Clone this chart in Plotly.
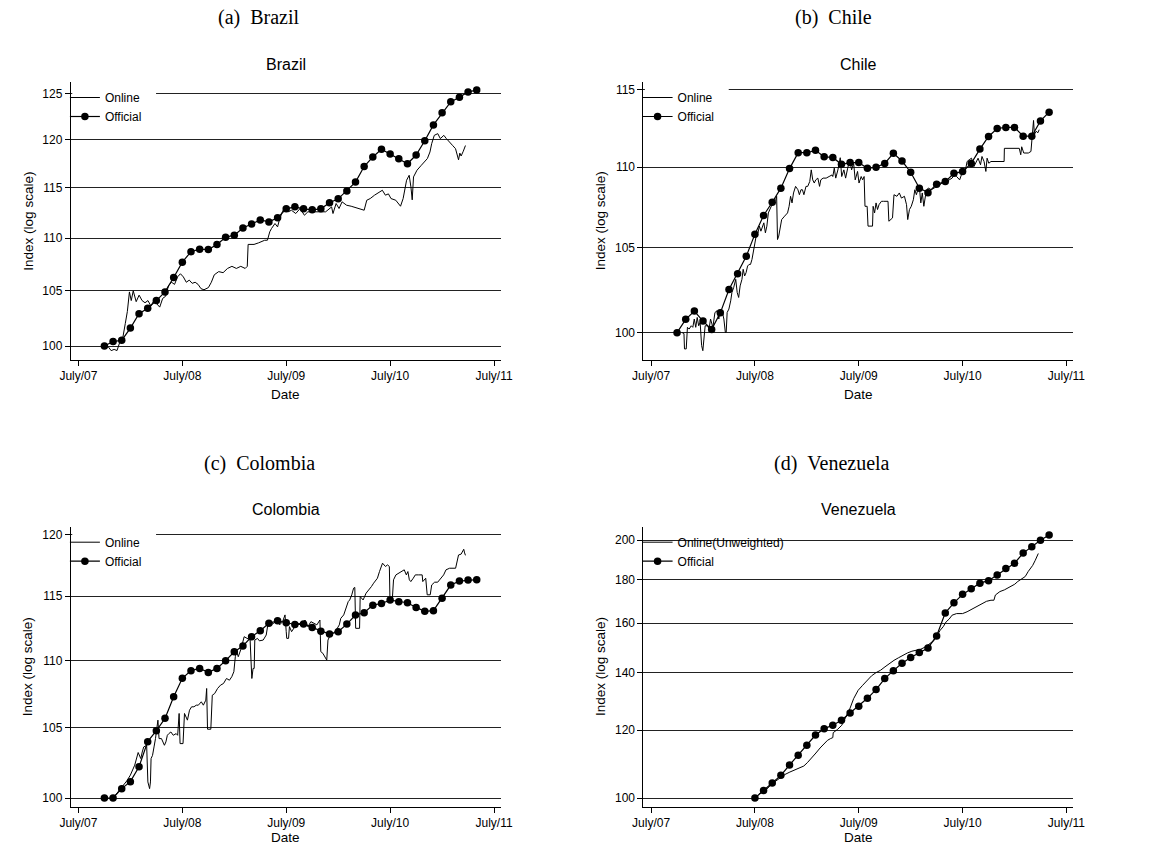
import plotly.graph_objects as go
import math

# ---------------- DATA ----------------
# Month index m: 0 = July 2007, 12 = July 2008, ...
tick_years = [2007.5, 2008.5, 2009.5, 2010.5, 2011.5]
tick_text = ["July/07", "July/08", "July/09", "July/10", "July/11"]

# Official monthly indices
brazil_official_start = 3   # Oct 2007
brazil_official = [100.0, 100.4, 100.5, 101.6, 102.9, 103.4, 104.1, 104.9, 106.25, 107.7,
                   108.7, 108.94, 108.9, 109.4, 110.1, 110.3, 111.0, 111.4, 111.8, 111.6,
                   112.0, 112.9, 113.1, 112.9, 112.8, 112.9, 113.5, 113.9, 114.7, 115.6,
                   117.2, 118.2, 119.0, 118.5, 118.0, 117.5, 118.4, 119.9, 121.6, 122.9,
                   124.1, 124.6, 125.2, 125.4]

chile_official_start = 3
chile_official = [100.0, 100.77, 101.25, 100.67, 100.19, 101.15, 102.52, 103.46, 104.5, 105.84,
                  106.98, 107.8, 108.68, 109.91, 110.92, 110.92, 111.07, 110.66, 110.62, 110.18,
                  110.29, 110.29, 109.93, 110.0, 110.24, 110.88, 110.39, 109.68, 108.68, 108.4,
                  108.92, 109.09, 109.61, 109.72, 110.24, 111.15, 111.96, 112.48, 112.55, 112.55,
                  111.98, 111.98, 112.97, 113.54]

colombia_official_start = 3
colombia_official = [100.0, 100.0, 100.65, 101.14, 102.19, 103.98, 104.77, 105.67, 107.27, 108.64,
                     109.22, 109.39, 109.09, 109.39, 109.98, 110.66, 111.10, 111.82, 112.28, 112.86,
                     113.06, 112.9, 112.77, 112.8, 112.54, 112.25, 112.02, 112.2, 112.8, 113.51,
                     113.69, 114.29, 114.42, 114.69, 114.56, 114.48, 114.11, 113.8, 113.85, 114.83,
                     115.89, 116.21, 116.29, 116.32]

venezuela_official_start = 12  # July 2008
venezuela_official = [100.0, 102.08, 104.12, 106.29, 109.29, 112.16, 115.23, 118.47, 120.51, 121.59,
                      123.24, 125.7, 127.97, 130.75, 133.84, 137.86, 140.85, 143.67, 145.89, 147.86,
                      149.72, 154.62, 164.5, 169.0, 172.9, 175.5, 178.2, 179.4, 182.2, 185.3,
                      188.0, 193.2, 196.5, 200.0, 202.8]

# Online indices: (month index, value)
brazil_online = [
    (3.44, 99.94), (3.78, 99.59), (4.12, 99.7), (4.46, 99.6), (4.80, 100.4), (5.14, 100.8),
    (5.41, 102.0), (5.65, 103.1), (5.89, 104.9), (6.10, 104.1), (6.33, 105.0), (6.67, 104.0),
    (7.01, 104.6), (7.35, 104.1), (7.69, 103.9), (8.03, 104.1), (8.37, 103.6), (8.71, 104.1),
    (9.05, 103.8), (9.39, 103.5), (9.73, 104.3), (10.07, 104.5), (10.41, 105.5), (10.76, 105.8),
    (11.10, 105.6), (11.44, 106.3), (11.78, 106.6), (12.12, 106.3), (12.46, 105.8), (12.80, 106.0),
    (13.14, 105.7), (13.48, 105.8), (13.82, 105.6), (14.16, 105.2), (14.50, 105.1), (15.01, 105.3),
    (15.35, 105.8), (15.69, 106.5), (16.20, 106.8), (16.71, 106.7), (17.22, 107.1), (17.73, 107.3),
    (18.24, 107.1), (18.75, 107.3), (19.26, 107.1), (19.50, 107.3), (19.60, 109.4), (20.28, 109.4),
    (20.8, 109.55), (21.5, 109.8), (21.83, 109.81), (22.1, 110.63), (22.3, 110.95), (22.7, 111.44),
    (23.0, 111.11), (23.2, 111.77), (23.55, 112.6), (23.9, 113.09), (24.24, 112.6), (24.6, 112.76),
    (25.1, 112.43), (25.6, 112.93), (26.1, 112.26), (26.5, 112.6), (27.0, 112.6), (27.7, 112.6),
    (28.55, 112.6), (29.24, 113.09), (29.4, 112.43), (29.76, 113.43), (30.1, 112.93), (30.45, 113.6),
    (30.97, 113.26), (31.5, 113.16), (32.0, 113.03), (32.5, 112.93), (33.0, 112.76), (33.3, 113.76),
    (33.7, 113.93), (34.2, 114.27), (34.76, 114.6), (35.1, 114.77), (35.45, 114.27), (35.8, 114.4),
    (36.1, 113.93), (36.65, 113.76), (37.2, 113.16), (37.5, 113.93), (37.9, 115.79), (38.2, 116.3),
    (38.4, 115.11), (38.55, 113.8), (38.7, 116.13), (39.1, 116.82), (39.6, 117.33), (39.9, 117.68),
    (40.3, 118.03), (40.6, 118.72), (40.8, 119.6), (41.1, 120.48), (41.5, 120.66), (41.8, 120.13),
    (42.2, 120.48), (42.5, 120.13), (42.9, 119.78), (43.2, 119.42), (43.55, 119.07), (43.9, 117.9),
    (44.05, 118.6), (44.2, 118.3), (44.45, 118.8), (44.7, 119.4)]

chile_online = [
    (3.6, 100.0), (3.8, 99.95), (3.86, 99.07), (4.06, 99.07), (4.20, 100.31), (4.40, 100.21),
    (4.64, 100.40), (4.82, 100.31), (4.99, 100.79), (5.16, 100.31), (5.33, 100.88), (5.50, 100.40),
    (5.67, 100.59), (5.84, 99.26), (5.98, 98.97), (6.12, 99.83), (6.25, 100.40), (6.53, 100.40),
    (6.70, 100.21), (6.87, 100.79), (7.14, 100.31), (7.38, 101.17), (7.62, 101.27), (7.83, 100.79),
    (8.00, 101.37), (8.24, 101.17), (8.41, 100.79), (8.58, 100.02), (8.68, 100.02), (8.79, 101.17),
    (8.99, 101.37), (9.20, 101.85), (9.34, 102.34), (9.54, 102.63), (9.78, 103.12), (9.95, 102.34),
    (10.12, 102.05), (10.29, 102.73), (10.50, 103.12), (10.64, 103.72), (10.81, 103.32), (10.98, 103.52),
    (11.15, 103.91), (11.32, 104.01), (11.49, 104.01), (11.66, 104.31), (11.84, 104.91), (12.01, 105.51),
    (12.14, 105.72), (12.35, 105.92), (12.52, 106.33), (12.69, 106.02), (12.86, 106.33), (13.03, 106.53),
    (13.21, 105.92), (13.38, 106.33), (13.55, 107.14), (13.72, 107.35), (13.89, 107.55), (14.06, 107.76),
    (14.23, 107.86), (14.40, 107.96), (14.51, 108.17), (14.61, 105.51), (14.75, 105.72), (14.92, 106.33),
    (15.09, 106.73), (15.43, 106.94), (15.77, 107.14), (15.95, 107.55), (16.12, 108.17), (16.29, 107.76),
    (16.46, 108.38), (16.70, 108.79), (16.97, 108.58), (17.14, 108.27), (17.32, 108.58), (17.49, 108.58),
    (17.66, 108.27), (17.90, 108.79), (18.10, 108.79), (18.34, 109.10), (18.51, 109.83), (18.68, 109.20),
    (18.86, 109.00), (19.03, 109.20), (19.27, 109.31), (19.47, 108.79), (19.61, 109.20), (19.88, 109.31),
    (20.23, 109.31), (20.57, 109.41), (20.91, 109.51), (21.0, 109.41), (21.17, 109.94), (21.34, 109.31),
    (21.59, 109.83), (21.86, 110.6), (22.03, 109.41), (22.28, 109.83), (22.48, 109.31), (22.72, 109.94),
    (22.97, 110.47), (23.17, 109.83), (23.41, 110.25), (23.59, 109.20), (23.86, 109.73), (24.03, 109.00),
    (24.28, 109.41), (24.45, 109.20), (24.62, 109.41), (24.72, 107.55), (24.97, 107.55), (25.07, 106.33),
    (25.31, 106.33), (25.59, 106.33), (25.66, 107.55), (25.83, 107.14), (26.0, 107.76), (26.17, 107.35),
    (26.34, 107.65), (26.62, 107.86), (26.86, 107.86), (27.38, 107.86), (27.48, 106.63), (27.72, 106.73),
    (27.9, 106.83), (28.07, 108.27), (28.41, 108.17), (28.69, 108.38), (28.93, 108.06), (29.28, 108.17),
    (29.52, 107.65), (29.66, 106.73), (29.86, 107.35), (30.07, 107.55), (30.31, 107.96), (30.48, 108.58),
    (30.66, 108.27), (30.83, 108.58), (31.0, 108.79), (31.17, 107.76), (31.34, 108.38), (31.52, 107.55),
    (31.79, 108.48), (32.03, 108.69), (32.38, 108.58), (32.72, 108.69), (33.07, 108.79), (33.41, 108.89),
    (33.76, 109.10), (34.10, 109.00), (34.45, 109.20), (34.79, 109.31), (35.03, 109.51), (35.31, 109.41),
    (35.66, 109.20), (36.0, 109.73), (36.34, 109.83), (36.52, 110.36), (36.76, 110.47), (37.03, 110.57),
    (37.31, 110.04), (37.55, 110.36), (37.79, 110.57), (38.07, 110.15), (38.24, 110.68), (38.48, 110.36),
    (38.69, 109.73), (38.83, 110.57), (39.03, 110.25), (39.28, 110.36), (40.8, 110.36), (40.83, 111.2),
    (42.55, 111.2), (42.72, 110.79), (42.83, 111.3), (43.07, 110.9), (43.6, 110.9), (43.9, 111.0),
    (44.05, 112.0), (44.2, 113.0), (44.3, 112.1), (44.5, 112.3), (44.7, 112.2), (44.85, 112.4)]

colombia_online = [
    (4.0, 100.0), (4.4, 100.3), (4.8, 100.6), (5.2, 100.9), (5.6, 101.2), (6.0, 101.6),
    (6.5, 102.3), (6.9, 103.2), (7.20, 102.77), (7.37, 103.24), (7.54, 103.6), (7.88, 103.72),
    (8.02, 101.12), (8.22, 100.65), (8.32, 101.12), (8.39, 102.77), (8.56, 103.0), (8.73, 103.6),
    (8.90, 104.2), (9.18, 105.54), (9.31, 104.2), (9.59, 104.2), (9.93, 103.72), (10.10, 103.96),
    (10.27, 104.44), (10.44, 104.56), (10.68, 104.68), (10.95, 104.44), (11.29, 104.56), (11.46, 104.44),
    (11.63, 106.03), (11.74, 103.84), (12.08, 103.84), (12.25, 106.03), (12.39, 105.78), (12.59, 105.54),
    (12.83, 106.27), (13.07, 106.52), (13.34, 106.52), (13.61, 106.64), (13.85, 106.64), (14.19, 106.89),
    (14.43, 106.64), (14.71, 107.01), (14.81, 107.88), (14.91, 104.88), (15.29, 104.88), (15.46, 107.38),
    (15.73, 107.5), (16.07, 107.88), (16.41, 108.13), (16.75, 108.25), (17.10, 108.63), (17.44, 108.5),
    (17.71, 108.76), (17.95, 109.14), (18.12, 110.28), (18.29, 110.66), (18.46, 110.28), (18.80, 110.92),
    (19.14, 111.82), (19.48, 111.69), (19.83, 111.56), (19.93, 110.02), (20.03, 108.63), (20.17, 109.39),
    (20.30, 109.39), (20.37, 111.56), (20.68, 111.69), (20.9, 111.5), (21.34, 111.56), (21.69, 111.95),
    (21.93, 112.99), (22.21, 112.74), (22.55, 112.86), (22.89, 113.12), (23.24, 112.74), (23.58, 112.99),
    (23.86, 113.52), (24.0, 112.21), (24.06, 111.69), (24.27, 111.69), (24.37, 112.6), (24.62, 112.21),
    (24.89, 112.47), (25.13, 112.74), (25.48, 112.86), (25.82, 112.8), (26.17, 113.12), (26.51, 112.6),
    (26.85, 112.99), (27.2, 112.86), (27.54, 112.74), (27.89, 113.12), (27.99, 110.67), (28.23, 110.54),
    (28.47, 110.28), (28.68, 110.02), (28.82, 111.56), (29.09, 111.95), (29.44, 112.08), (29.78, 112.34),
    (30.13, 112.74), (30.3, 113.25), (30.64, 113.52), (30.99, 114.31), (31.16, 114.57), (31.33, 114.7),
    (31.57, 115.11), (31.78, 115.64), (31.92, 115.7), (32.02, 112.47), (32.47, 112.47), (32.54, 114.97),
    (32.88, 114.7), (33.22, 115.24), (33.57, 115.5), (33.84, 115.77), (34.09, 116.04), (34.33, 116.31),
    (34.53, 116.44), (34.77, 116.98), (34.95, 117.39), (35.12, 117.66), (35.46, 117.39), (35.7, 117.52),
    (35.91, 117.39), (35.98, 114.7), (36.25, 114.7), (36.39, 116.31), (36.67, 116.71), (37.01, 116.84),
    (37.36, 116.98), (37.63, 117.12), (37.87, 116.71), (38.05, 116.98), (38.22, 116.31), (38.39, 116.17),
    (38.67, 116.44), (38.91, 116.71), (39.25, 116.71), (39.7, 116.71), (39.77, 116.17), (40.11, 116.44),
    (40.28, 115.11), (40.63, 115.11), (40.8, 115.9), (41.14, 116.12), (41.49, 116.12), (41.83, 116.44),
    (42.18, 116.71), (42.45, 117.12), (42.87, 117.25), (43.56, 117.25), (43.73, 117.79), (43.9, 118.33),
    (44.2, 118.4), (44.5, 118.8), (44.6, 118.5), (44.7, 118.3)]

venezuela_online = [
    (12.5, 101.2), (13.03, 101.63), (13.99, 103.93), (15.01, 105.81), (15.42, 106.48), (16.04, 107.24),
    (17.07, 108.4), (17.65, 108.99), (18.06, 109.98), (18.68, 111.66), (19.05, 112.87), (19.53, 114.41),
    (19.98, 115.75), (20.39, 116.79), (20.73, 117.32), (21.0, 117.64), (21.05, 119.22), (21.52, 120.2),
    (22.03, 121.59), (22.55, 124.91), (22.9, 126.6), (23.41, 130.63), (23.93, 133.6), (24.45, 135.4),
    (24.97, 137.2), (25.48, 138.9), (26.0, 140.1), (26.52, 141.0), (27.03, 142.3), (27.55, 143.6),
    (28.07, 144.8), (28.59, 145.8), (29.1, 146.8), (29.62, 147.7), (30.14, 148.4), (30.66, 148.8),
    (31.17, 149.2), (31.69, 150.1), (32.21, 151.5), (32.72, 152.8), (33.07, 154.9), (33.41, 157.0),
    (33.76, 158.5), (34.1, 160.6), (34.45, 161.8), (34.79, 163.5), (35.31, 164.2), (36.0, 164.2),
    (36.52, 165.0), (36.86, 165.7), (37.21, 166.8), (37.72, 167.6), (38.24, 168.7), (38.76, 169.7),
    (39.28, 170.2), (39.62, 170.2), (39.79, 172.6), (40.31, 174.2), (40.83, 175.0), (41.52, 176.6),
    (42.03, 177.7), (42.38, 179.0), (42.9, 180.6), (43.24, 181.4), (43.59, 183.9), (43.93, 185.8),
    (44.1, 186.9), (44.4, 189.5), (44.6, 191.8), (44.75, 193.0)]

brazil_ticks = [100, 105, 110, 115, 120, 125]
chile_ticks = [100, 105, 110, 115]
colombia_ticks = [100, 105, 110, 115, 120]
venezuela_ticks = [100, 120, 140, 160, 180, 200]

panels = [
    dict(name="Brazil", caption="(a)\u00a0\u00a0Brazil", official=brazil_official,
         start=brazil_official_start, online=brazil_online, online_name="Online",
         ticks=brazil_ticks, yr=(98.77, 126.3), gap=True),
    dict(name="Chile", caption="(b)\u00a0\u00a0Chile", official=chile_official,
         start=chile_official_start, online=chile_online, online_name="Online",
         ticks=chile_ticks, yr=(98.44, 115.53), gap=True),
    dict(name="Colombia", caption="(c)\u00a0\u00a0Colombia", official=colombia_official,
         start=colombia_official_start, online=colombia_online, online_name="Online",
         ticks=colombia_ticks, yr=(99.4, 120.67), gap=True),
    dict(name="Venezuela", caption="(d)\u00a0\u00a0Venezuela", official=venezuela_official,
         start=venezuela_official_start, online=venezuela_online, online_name="Online(Unweighted)",
         ticks=venezuela_ticks, yr=(97.7, 207.4), gap=False),
]

# ---------------- LAYOUT (pixels) ----------------
W, H = 1156, 849
boxes = [  # left, right, top, bottom of plot areas
    (61, 500, 82, 360),
    (645.3, 1084, 82, 360),
    (61, 500, 526.7, 806.7),
    (645.3, 1084, 526.7, 806.7),
]
caption_pos = [(253, 17), (839, 17), (254, 463), (838, 463)]
date_off = [34, 34, 31, 31]
xr = [2007.4265, 2011.5675]

SANS = "Liberation Sans, Arial, Helvetica, sans-serif"
SERIF = "Liberation Serif, Times New Roman, serif"


def to_year(m):
    return 2007.5 + m / 12.0


fig = go.Figure()
layout = dict(width=W, height=H, margin=dict(l=0, r=0, t=0, b=0), autosize=False,
              paper_bgcolor="white", plot_bgcolor="white",
              font=dict(family=SANS, size=12, color="black"), annotations=[], shapes=[])

for i, p in enumerate(panels):
    k = "" if i == 0 else str(i + 1)
    L, R, T, B = boxes[i]
    xa, ya = "x" + k, "y" + k
    lg = "legend" + k
    on_x = [to_year(m) for m, v in p["online"]]
    on_y = [v for m, v in p["online"]]
    of_x = [to_year(p["start"] + j) for j in range(len(p["official"]))]
    fig.add_trace(go.Scatter(x=on_x, y=on_y, mode="lines", name=p["online_name"],
                             line=dict(color="black", width=1), xaxis=xa, yaxis=ya,
                             legend=lg))
    fig.add_trace(go.Scatter(x=of_x, y=p["official"], mode="lines+markers", name="Official",
                             line=dict(color="black", width=1.2),
                             marker=dict(color="black", size=7.5, symbol="circle"),
                             xaxis=xa, yaxis=ya, legend=lg))
    layout["xaxis" + k] = dict(domain=[L / W, R / W], anchor=ya, range=xr,
                               tickvals=tick_years, ticktext=tick_text, ticks="outside",
                               ticklen=5, tickcolor="black", showline=True, linecolor="black",
                               linewidth=1, showgrid=False, zeroline=False,
                               tickfont=dict(size=12, family=SANS))
    layout["yaxis" + k] = dict(domain=[1 - B / H, 1 - T / H], anchor=xa, type="log",
                               range=[math.log10(p["yr"][0]), math.log10(p["yr"][1])],
                               tickvals=p["ticks"], ticktext=[str(t) for t in p["ticks"]],
                               ticks="outside", ticklen=5, tickcolor="black", showline=True,
                               linecolor="black", linewidth=1, showgrid=True,
                               gridcolor="#222222", gridwidth=1, zeroline=False,
                               tickfont=dict(size=12, family=SANS))
    layout[lg] = dict(x=(L - 6) / W, y=1 - (T + 1) / H, xanchor="left", yanchor="top",
                      bgcolor="rgba(0,0,0,0)", borderwidth=0, itemwidth=30, tracegroupgap=0,
                      font=dict(size=12, family=SANS), traceorder="normal")
    if p["gap"]:
        layout["shapes"].append(dict(type="rect", xref="paper", yref="paper", layer="above",
                                     x0=(L + 1.5) / W, x1=(L + 87) / W,
                                     y0=1 - (T + 44) / H, y1=1 - (T + 1) / H,
                                     fillcolor="white", line=dict(width=0)))
    cx = (L + R) / 2
    anns = layout["annotations"]
    anns.append(dict(text=p["name"], x=cx / W, y=1 - (T - 17) / H, xref="paper", yref="paper",
                     showarrow=False, font=dict(size=16, family=SANS), xanchor="center",
                     yanchor="middle"))
    anns.append(dict(text=p["caption"], x=caption_pos[i][0] / W, y=1 - caption_pos[i][1] / H,
                     xref="paper", yref="paper", showarrow=False,
                     font=dict(size=20, family=SERIF), xanchor="center", yanchor="middle"))
    anns.append(dict(text="Date", x=cx / W, y=1 - (B + date_off[i]) / H, xref="paper",
                     yref="paper", showarrow=False, font=dict(size=13.5, family=SANS),
                     xanchor="center", yanchor="middle"))
    anns.append(dict(text="Index (log scale)", x=(L - 44) / W, y=1 - ((T + B) / 2) / H,
                     xref="paper", yref="paper", showarrow=False, textangle=-90,
                     font=dict(size=13.5, family=SANS), xanchor="center", yanchor="middle"))

fig.update_layout(**layout)
fig.write_html("out.html", config={"displayModeBar": False},
               post_script="document.body.style.margin='0px';document.body.style.overflow='hidden';")
